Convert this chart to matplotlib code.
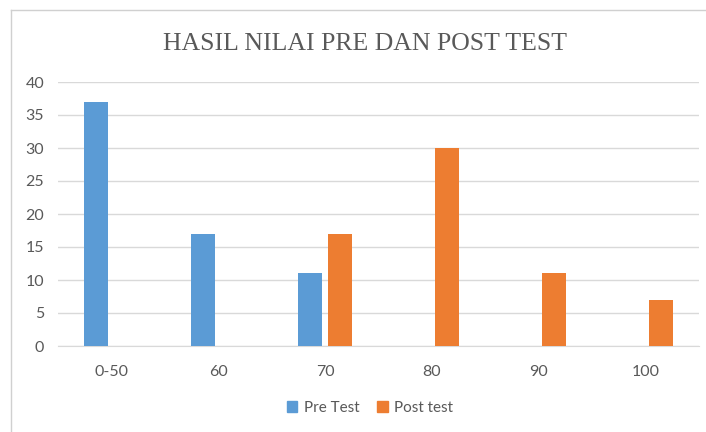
import numpy as np
import matplotlib
matplotlib.use('Agg')
from matplotlib import pyplot as plt
from matplotlib.lines import Line2D
from matplotlib.patches import Patch

# data -------------------------
categories = ['0-50', '60', '70', '80', '90', '100']
pre_test   = [37, 17, 11, 0, 0, 0]
post_test  = [0, 0, 17, 30, 11, 7]
# ------------------------------

col_pre  = '#5B9BD5'
col_post = '#ED7D31'
txt_col  = '#595959'
grid_col = '#D9D9D9'
font     = ['Lato', 'DejaVu Sans']

fig = plt.figure(figsize=(7.06, 4.32), dpi=100)
ax  = fig.add_axes([58/706, (432-346)/432, (699-58)/706, (346-82)/432])

x     = np.arange(len(categories))
width = 0.225
off   = 0.14
ax.bar(x - off, pre_test, width, color=col_pre, label='Pre Test', zorder=3)
ax.bar(x + off, post_test, width, color=col_post, label='Post test', zorder=3)

ax.set_xlim(-0.5, len(categories) - 0.5)
ax.set_ylim(0, 40)
ax.set_yticks(np.arange(0, 41, 5))
ax.set_xticks(x)
ax.set_xticklabels(categories)
ax.yaxis.grid(True, color=grid_col, lw=1, zorder=0)
for s in ['top', 'right', 'left']:
    ax.spines[s].set_visible(False)
ax.spines['bottom'].set_color(grid_col)
ax.tick_params(axis='both', length=0, labelsize=11.5, colors=txt_col)
ax.tick_params(axis='y', pad=10)
ax.tick_params(axis='x', pad=14)
for lab in ax.get_xticklabels() + ax.get_yticklabels():
    lab.set_family(font)

fig.text(365/706, 1 - 44/432, 'HASIL NILAI PRE DAN POST TEST', ha='center', va='center',
         fontsize=18.5, color=txt_col, family=['Liberation Serif', 'DejaVu Serif'])

handles = [Patch(color=col_pre), Patch(color=col_post)]
fig.legend(handles, ['Pre Test', 'Post test'], loc='center', bbox_to_anchor=(370/706, 1 - 408/432),
           ncol=2, frameon=False, handlelength=0.7, handleheight=0.7, handletextpad=0.4,
           columnspacing=1.2, prop={'family': font, 'size': 11}, labelcolor=txt_col)

# chart border (cropped on right and bottom)
fig.add_artist(Line2D([11/706, 11/706], [0, 1 - 10/432], color='#D0D0D0', lw=1, transform=fig.transFigure))
fig.add_artist(Line2D([11/706, 1], [1 - 10/432, 1 - 10/432], color='#D0D0D0', lw=1, transform=fig.transFigure))

plt.savefig('out.png', dpi=100)
